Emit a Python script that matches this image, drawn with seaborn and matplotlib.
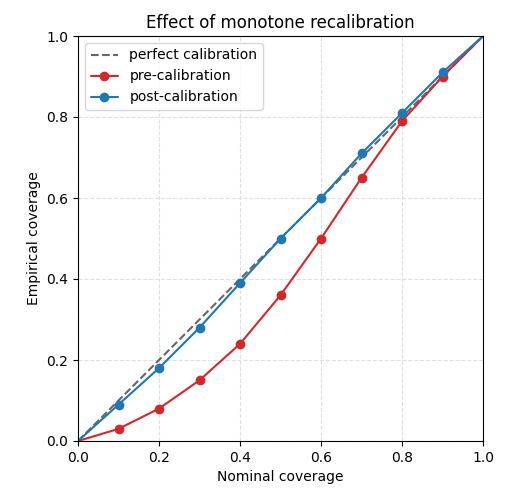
import numpy as np
import pandas as pd
import matplotlib
matplotlib.use("Agg")
import matplotlib.pyplot as plt
import seaborn as sns

# Valores
nominal = [0.0, 0.1, 0.2, 0.3, 0.4, 0.5, 0.6, 0.7, 0.8, 0.9, 1.0]
pre_cal = [0.0, 0.03, 0.08, 0.15, 0.24, 0.36, 0.50, 0.65, 0.79, 0.90, 1.0]
post_cal = [0.0, 0.09, 0.18, 0.28, 0.39, 0.50, 0.60, 0.71, 0.81, 0.91, 1.0]
ticks = [0.0, 0.2, 0.4, 0.6, 0.8, 1.0]

sns.set_style("ticks")
plt.rcParams['font.family'] = ['DejaVu Sans']
plt.rcParams['text.color'] = 'black'
plt.rcParams['axes.labelcolor'] = 'black'
plt.rcParams['xtick.color'] = 'black'
plt.rcParams['ytick.color'] = 'black'

df = pd.DataFrame({
    'nominal': nominal * 2,
    'empirical': pre_cal + post_cal,
    'serie': ['pre-calibration'] * len(nominal) + ['post-calibration'] * len(nominal),
})

fig = plt.figure(figsize=(5.2, 5.0), dpi=100)
ax = fig.add_axes([0.15, 0.118, 0.779, 0.81])

ax.plot([0, 1], [0, 1], linestyle='--', color='#666666', lw=1.5, label='perfect calibration')

sns.lineplot(data=df, x='nominal', y='empirical', hue='serie',
             palette={'pre-calibration': '#d62728', 'post-calibration': '#1f77b4'},
             marker='o', markersize=7, markeredgewidth=0, markevery=list(range(1, 10)),
             lw=1.5, ax=ax, legend=False)

ax.plot([], [], color='#d62728', marker='o', markersize=7, markeredgewidth=0, label='pre-calibration')
ax.plot([], [], color='#1f77b4', marker='o', markersize=7, markeredgewidth=0, label='post-calibration')

ax.set_xlim(0, 1)
ax.set_ylim(0, 1)
ax.set_xticks(ticks)
ax.set_yticks(ticks)
ax.grid(True, linestyle='--', color='#e0e0e0', lw=0.8)
ax.set_xlabel('Nominal coverage', fontsize=10)
ax.set_ylabel('Empirical coverage', fontsize=10)
ax.set_title('Effect of monotone recalibration', fontsize=12)
ax.legend(loc='upper left', fontsize=10, frameon=True)
for s in ax.spines.values():
    s.set_color('black')

fig.savefig('out.png', dpi=100)
